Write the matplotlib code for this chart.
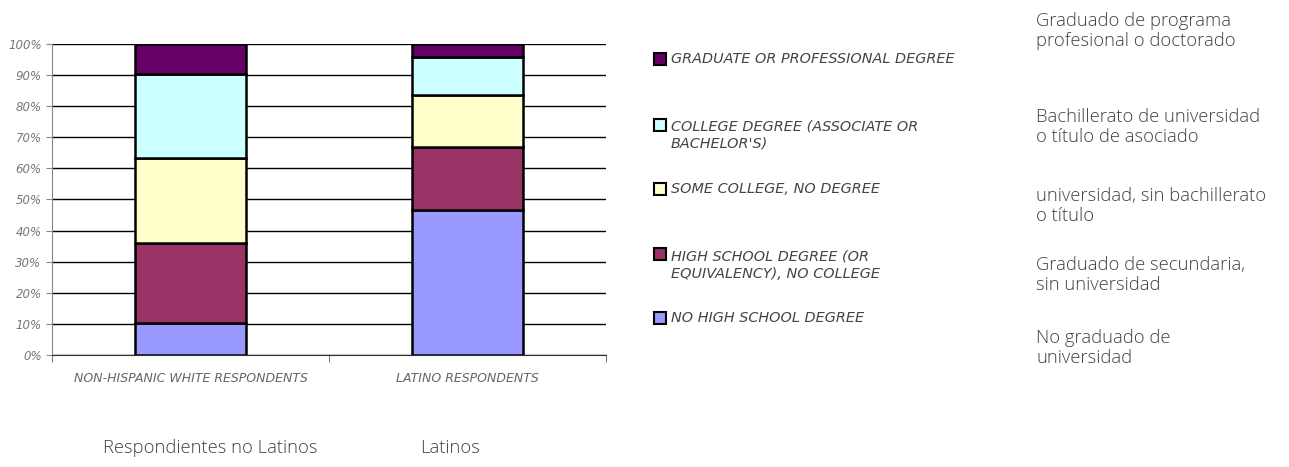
import matplotlib.pyplot as plt
from matplotlib.patches import Rectangle
import numpy as np

# data (percent of respondents)
groups = ["NON-HISPANIC WHITE RESPONDENTS", "LATINO RESPONDENTS"]
groups_es = ["Respondientes no Latinos", "Latinos"]
levels = [
    "NO HIGH SCHOOL DEGREE",
    "HIGH SCHOOL DEGREE (OR\nEQUIVALENCY), NO COLLEGE",
    "SOME COLLEGE, NO DEGREE",
    "COLLEGE DEGREE (ASSOCIATE OR\nBACHELOR'S)",
    "GRADUATE OR PROFESSIONAL DEGREE",
]
levels_es = [
    "No graduado de\nuniversidad",
    "Graduado de secundaria,\nsin universidad",
    "universidad, sin bachillerato\no título",
    "Bachillerato de universidad\no título de asociado",
    "Graduado de programa\nprofesional o doctorado",
]
no_hs = [10.4, 46.5]
high_school = [25.5, 20.3]
some_college = [27.3, 16.8]
college = [27.0, 12.1]
graduate = [9.8, 4.3]
values = [no_hs, high_school, some_college, college, graduate]
colors = ["#9999FF", "#993366", "#FFFFCC", "#CCFFFF", "#660066"]

W, H = 1289, 467
fig = plt.figure(figsize=(W / 100, H / 100), dpi=100)
ax = fig.add_axes([52 / W, 1 - 355 / H, (606 - 52) / W, (355 - 44) / H])

x = np.arange(len(groups))
bottom = np.zeros(len(groups))
for vals, col in zip(values, colors):
    ax.bar(x, vals, width=0.4, bottom=bottom, color=col, edgecolor="black",
           linewidth=1.8, zorder=3)
    bottom += np.array(vals)

ax.set_xlim(-0.5, 1.5)
ax.set_ylim(0, 100)
ax.set_yticks(np.arange(0, 101, 10))
ax.set_yticklabels([f"{v}%" for v in range(0, 101, 10)])
ax.yaxis.grid(True, color="black", linewidth=1, zorder=0)
ax.set_axisbelow(True)
ax.set_xticks(x)
ax.set_xticklabels(groups)
ax.set_xticks([-0.5, 0.5, 1.5], minor=True)
ax.tick_params(axis="x", which="major", length=0, pad=12)
ax.tick_params(axis="x", which="minor", length=5, color="#555555")
ax.tick_params(axis="y", length=4, color="#888888")
for lab in ax.get_xticklabels():
    lab.set_fontstyle("italic")
    lab.set_color("#666666")
    lab.set_fontsize(9)
for lab in ax.get_yticklabels():
    lab.set_fontstyle("italic")
    lab.set_color("#777777")
    lab.set_fontsize(8.5)
for s in ["top", "right"]:
    ax.spines[s].set_visible(False)
ax.spines["left"].set_color("#888888")
ax.spines["bottom"].set_color("#333333")

# legend, top entry first
rows = [(318, 318), (254, 265), (189, 189), (125, 135), (59, 59)]
for (sq_y, txt_y), lab, col in zip(rows, levels, colors):
    fig.patches.append(Rectangle((654 / W, 1 - (sq_y + 6) / H), 12 / W, 12 / H,
                                 transform=fig.transFigure, facecolor=col,
                                 edgecolor="black", linewidth=1.5))
    fig.text(671 / W, 1 - txt_y / H, lab, ha="left", va="center",
             fontsize=10.4, style="italic", color="#444444", linespacing=1.35)

# spanish translations on the right
es_y = [348, 275, 206, 127, 31]
for yy, lab in zip(es_y, levels_es):
    fig.text(1036 / W, 1 - yy / H, lab, ha="left", va="center",
             fontsize=13.2, color="#404040", linespacing=1.2,
             family=["Open Sans", "DejaVu Sans"], fontweight="light")

fig.text(103 / W, 1 - 448 / H, groups_es[0], ha="left", va="center",
         fontsize=13.2, color="#404040", family=["Open Sans", "DejaVu Sans"],
         fontweight="light")
fig.text(420 / W, 1 - 448 / H, groups_es[1], ha="left", va="center",
         fontsize=13.2, color="#404040", family=["Open Sans", "DejaVu Sans"],
         fontweight="light")

fig.savefig("out.png", dpi=100)
